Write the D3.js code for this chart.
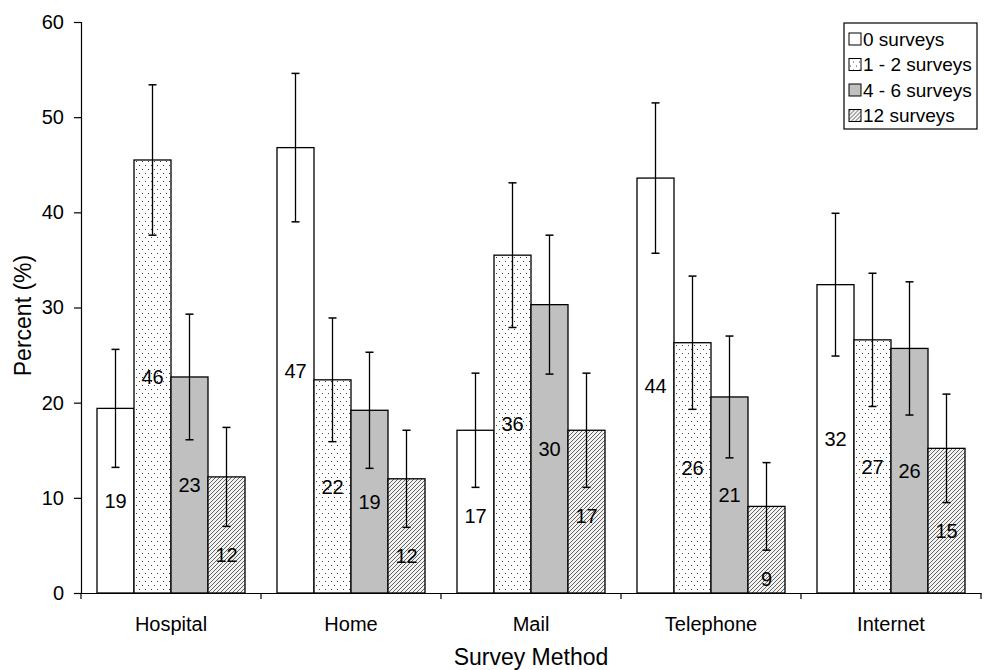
<!DOCTYPE html>
<html>
<head>
<meta charset="utf-8">
<script src="https://cdn.jsdelivr.net/npm/d3@7"></script>
<style>
  body { margin: 0; background: #fff; }
  text { font-family: "Liberation Sans", Arial, sans-serif; fill: #000; }
</style>
</head>
<body>
<script>
// Chart data
const categories = ['Hospital', 'Home', 'Mail', 'Telephone', 'Internet'];
const seriesNames = ['0 surveys', '1 - 2 surveys', '4 - 6 surveys', '12 surveys'];

const zeroSurveys = [19.4, 46.8, 17.1, 43.6, 32.4];
const oneTwoSurveys = [45.5, 22.4, 35.5, 26.3, 26.6];
const fourSixSurveys = [22.7, 19.2, 30.3, 20.6, 25.7];
const twelveSurveys = [12.2, 12.0, 17.1, 9.1, 15.2];

const zeroErr = [6.2, 7.8, 6.0, 7.9, 7.5];
const oneTwoErr = [7.9, 6.5, 7.6, 7.0, 7.0];
const fourSixErr = [6.6, 6.1, 7.3, 6.4, 7.0];
const twelveErr = [5.2, 5.1, 6.0, 4.6, 5.7];

const yTicks = [0, 10, 20, 30, 40, 50, 60];

const values = [zeroSurveys, oneTwoSurveys, fourSixSurveys, twelveSurveys];
const errors = [zeroErr, oneTwoErr, fourSixErr, twelveErr];

// Layout
const width = 986;
const height = 670;
const margin = { top: 22, right: 5, bottom: 77, left: 81 };
const fills = ['#ffffff', 'url(#dots)', '#c0c0c0', 'url(#hatch)'];

const svg = d3.select('body')
  .append('svg')
  .attr('width', width)
  .attr('height', height);

// Patterns
const defs = svg.append('defs');
const dots = defs.append('pattern')
  .attr('id', 'dots')
  .attr('patternUnits', 'userSpaceOnUse')
  .attr('width', 6)
  .attr('height', 8);
dots.append('rect').attr('width', 6).attr('height', 8).attr('fill', '#fff');
dots.append('rect').attr('x', 1).attr('y', 1).attr('width', 1).attr('height', 1).attr('fill', '#444');
dots.append('rect').attr('x', 4).attr('y', 5).attr('width', 1).attr('height', 1).attr('fill', '#444');

const hatch = defs.append('pattern')
  .attr('id', 'hatch')
  .attr('patternUnits', 'userSpaceOnUse')
  .attr('width', 4)
  .attr('height', 4);
hatch.append('rect').attr('width', 4).attr('height', 4).attr('fill', '#f2f2f2');
hatch.append('path')
  .attr('d', 'M-1,1 L1,-1 M0,4 L4,0 M3,5 L5,3')
  .attr('stroke', '#555')
  .attr('stroke-width', 0.9);

// Scales
const x0 = d3.scaleBand()
  .domain(categories)
  .range([margin.left, width - margin.right]);

const x1 = d3.scaleBand()
  .domain(d3.range(seriesNames.length))
  .range([16, x0.bandwidth() - 16]);

const y = d3.scaleLinear()
  .domain([0, 60])
  .range([height - margin.bottom, margin.top]);

// Y axis
const yAxis = svg.append('g')
  .attr('transform', `translate(${margin.left},0)`)
  .call(d3.axisLeft(y).tickValues(yTicks).tickSize(7).tickPadding(10));
yAxis.selectAll('text').style('font-size', '20px');
yAxis.selectAll('path, line').attr('stroke', '#000').attr('stroke-width', 1.2);

// Bars
const groups = svg.selectAll('.group')
  .data(categories)
  .enter()
  .append('g')
  .attr('class', 'group')
  .attr('transform', d => `translate(${x0(d)},0)`);

const cells = groups.selectAll('.cell')
  .data((d, i) => values.map((s, k) => ({ k, v: s[i], e: errors[k][i] })))
  .enter()
  .append('g')
  .attr('class', 'cell');

cells.append('rect')
  .attr('x', d => x1(d.k))
  .attr('y', d => y(d.v))
  .attr('width', x1.bandwidth())
  .attr('height', d => y(0) - y(d.v))
  .attr('fill', d => fills[d.k])
  .attr('stroke', '#000')
  .attr('stroke-width', 1.3);

// Value labels: bar centre, kept below the lower error cap
cells.append('text')
  .attr('x', d => x1(d.k) + x1.bandwidth() / 2)
  .attr('y', d => y(Math.min(d.v / 2, d.v - d.e - 3)))
  .attr('dy', '0.36em')
  .attr('text-anchor', 'middle')
  .style('font-size', '20px')
  .text(d => Math.round(d.v));

// Error bars
const cap = 4;
cells.append('line')
  .attr('x1', d => x1(d.k) + x1.bandwidth() / 2)
  .attr('x2', d => x1(d.k) + x1.bandwidth() / 2)
  .attr('y1', d => y(d.v + d.e))
  .attr('y2', d => y(d.v - d.e))
  .attr('stroke', '#000')
  .attr('stroke-width', 1.3);
[1, -1].forEach(sign => {
  cells.append('line')
    .attr('x1', d => x1(d.k) + x1.bandwidth() / 2 - cap)
    .attr('x2', d => x1(d.k) + x1.bandwidth() / 2 + cap)
    .attr('y1', d => y(d.v + sign * d.e))
    .attr('y2', d => y(d.v + sign * d.e))
    .attr('stroke', '#000')
    .attr('stroke-width', 1.5);
});

// X axis
const xAxis = svg.append('g')
  .attr('transform', `translate(0,${y(0)})`)
  .call(d3.axisBottom(x0).tickSize(0).tickPadding(24));
xAxis.select('.domain').attr('stroke', '#000').attr('stroke-width', 1.2);
xAxis.selectAll('text').style('font-size', '20px');
xAxis.selectAll('.sep')
  .data(categories.map(c => x0(c)).concat([x0.range()[1]]))
  .enter()
  .append('line')
  .attr('class', 'sep')
  .attr('x1', d => d)
  .attr('x2', d => d)
  .attr('y1', 0)
  .attr('y2', 6)
  .attr('stroke', '#000')
  .attr('stroke-width', 1.2);

// Axis titles
svg.append('text')
  .attr('x', (x0.range()[0] + x0.range()[1]) / 2)
  .attr('y', 665)
  .attr('text-anchor', 'middle')
  .style('font-size', '23px')
  .text('Survey Method');

svg.append('text')
  .attr('transform', `translate(31,${(y(0) + y(60)) / 2 + 8}) rotate(-90)`)
  .attr('text-anchor', 'middle')
  .style('font-size', '23px')
  .text('Percent (%)');

// Legend
const legend = svg.append('g')
  .attr('transform', 'translate(844,23)');
legend.append('rect')
  .attr('width', 133)
  .attr('height', 106)
  .attr('fill', '#fff')
  .attr('stroke', '#000')
  .attr('stroke-width', 1.2);

const items = legend.selectAll('.item')
  .data(seriesNames)
  .enter()
  .append('g')
  .attr('class', 'item')
  .attr('transform', (d, i) => `translate(5,${16 + i * 25.5})`);

items.append('rect')
  .attr('x', 0)
  .attr('y', -6)
  .attr('width', 12)
  .attr('height', 12)
  .attr('fill', (d, i) => fills[i])
  .attr('stroke', '#000')
  .attr('stroke-width', 1);

items.append('text')
  .attr('x', 14)
  .attr('dy', '0.36em')
  .style('font-size', '19px')
  .text(d => d);
</script>
</body>
</html>
